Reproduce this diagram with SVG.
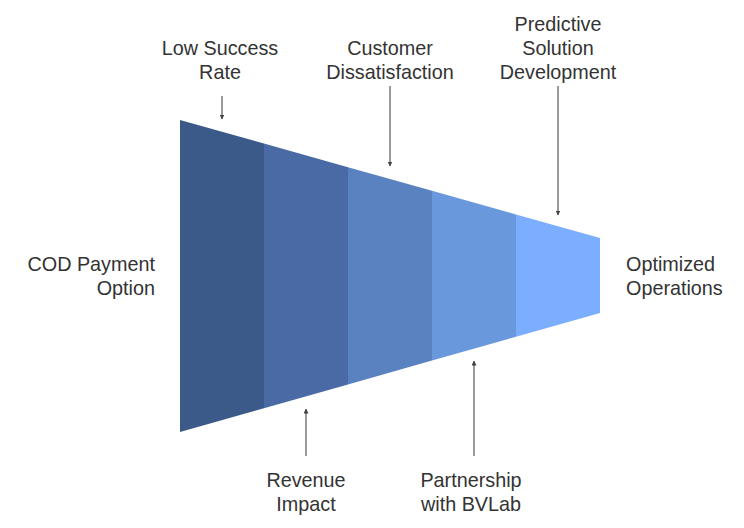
<svg xmlns="http://www.w3.org/2000/svg" width="744" height="528" viewBox="0 0 744 528">
<defs>
<style>
.t{font-family:"Liberation Sans",Arial,sans-serif;font-size:19.8px;fill:#333;text-anchor:middle;dominant-baseline:central}
.r{text-anchor:end}
.l{text-anchor:start}
.c{stroke:#999;stroke-width:2;fill:none}
</style>
<marker id="ah" viewBox="0 0 10 10" refX="9" refY="5" markerWidth="5" markerHeight="5" orient="auto" markerUnits="userSpaceOnUse">
<path d="M0,0 L10,5 L0,10 z" fill="#444"/>
</marker>
</defs>
<rect width="744" height="528" fill="#fff"/>
<g id="funnel">
<polygon points="180,120 264,143.6 264,408.2 180,432" fill="#3B5A8A"/>
<polygon points="264,143.6 348,167.2 348,384.4 264,408.2" fill="#4A6AA5"/>
<polygon points="348,167.2 432,190.8 432,360.6 348,384.4" fill="#5A82C0"/>
<polygon points="432,190.8 516,214.4 516,336.8 432,360.6" fill="#6A98DD"/>
<polygon points="516,214.4 600,238 600,313 516,336.8" fill="#7CAEFF"/>
</g>
<g id="connectors">
<line class="c" x1="222" y1="96" x2="222" y2="119" marker-end="url(#ah)"/>
<line class="c" x1="390" y1="86" x2="390" y2="166" marker-end="url(#ah)"/>
<line class="c" x1="558" y1="86" x2="558" y2="215" marker-end="url(#ah)"/>
<line class="c" x1="306" y1="456" x2="306" y2="409" marker-end="url(#ah)"/>
<line class="c" x1="474" y1="456" x2="474" y2="361" marker-end="url(#ah)"/>
</g>
<g id="n-cod"><text class="t r" x="155" y="264">COD Payment</text><text class="t r" x="155" y="288">Option</text></g>
<g id="n-low"><text class="t" x="220" y="48">Low Success</text><text class="t" x="220" y="72">Rate</text></g>
<g id="n-cust"><text class="t" x="390" y="48">Customer</text><text class="t" x="390" y="72">Dissatisfaction</text></g>
<g id="n-pred"><text class="t" x="558" y="24">Predictive</text><text class="t" x="558" y="48">Solution</text><text class="t" x="558" y="72">Development</text></g>
<g id="n-rev"><text class="t" x="306" y="480">Revenue</text><text class="t" x="306" y="504">Impact</text></g>
<g id="n-part"><text class="t" x="471" y="480">Partnership</text><text class="t" x="471" y="504">with BVLab</text></g>
<g id="n-opt"><text class="t l" x="626" y="264">Optimized</text><text class="t l" x="626" y="288">Operations</text></g>
</svg>
